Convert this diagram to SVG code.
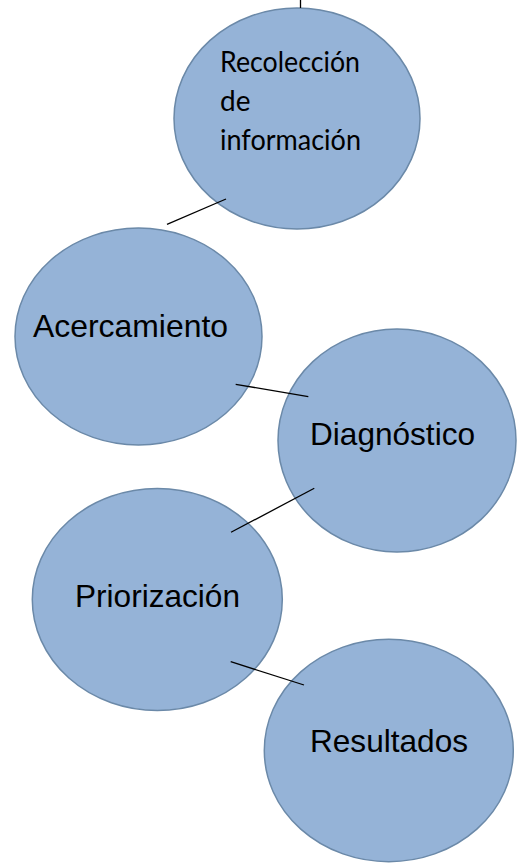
<svg xmlns="http://www.w3.org/2000/svg" width="517" height="866" viewBox="0 0 517 866">
<style>
.node{fill:#95b3d7;stroke:#6b89a8;stroke-width:1.5}
.lbl{font-family:"Liberation Sans",Arial,sans-serif;font-size:31.5px;fill:#000}
.lbl2{font-family:Lato,"Open Sans",sans-serif;font-size:28px;fill:#000}
.conn line{stroke:#000;stroke-width:1.3}
</style>
<rect width="517" height="866" fill="#fff"/>
<g id="n1"><ellipse class="node" cx="297" cy="118.5" rx="123" ry="110.5"/>
<text class="lbl2" x="220" y="72" textLength="140" lengthAdjust="spacingAndGlyphs">Recolección</text>
<text class="lbl2" x="220" y="111">de</text>
<text class="lbl2" x="220" y="150" textLength="141" lengthAdjust="spacingAndGlyphs">información</text></g>
<g id="n2"><ellipse class="node" cx="138.5" cy="336.5" rx="123.5" ry="108.5"/>
<text class="lbl" x="33" y="337" textLength="195" lengthAdjust="spacingAndGlyphs">Acercamiento</text></g>
<g id="n3"><ellipse class="node" cx="397" cy="440.5" rx="119" ry="111.5"/>
<text class="lbl" x="310" y="445" textLength="165" lengthAdjust="spacingAndGlyphs">Diagnóstico</text></g>
<g id="n4"><ellipse class="node" cx="157.3" cy="599.5" rx="125" ry="111"/>
<text class="lbl" x="75" y="607" textLength="165" lengthAdjust="spacingAndGlyphs">Priorización</text></g>
<g id="n5"><ellipse class="node" cx="388.8" cy="750.5" rx="124.5" ry="111.2"/>
<text class="lbl" x="310" y="752" textLength="158" lengthAdjust="spacingAndGlyphs">Resultados</text></g>
<g id="connectors" class="conn">
<line x1="300.5" y1="0" x2="300.5" y2="8"/>
<line x1="226" y1="199" x2="167" y2="224.3"/>
<line x1="235.7" y1="384.3" x2="308.3" y2="396.7"/>
<line x1="314.3" y1="488.3" x2="231" y2="532.3"/>
<line x1="230.7" y1="661.7" x2="304" y2="685"/>
</g>
</svg>
